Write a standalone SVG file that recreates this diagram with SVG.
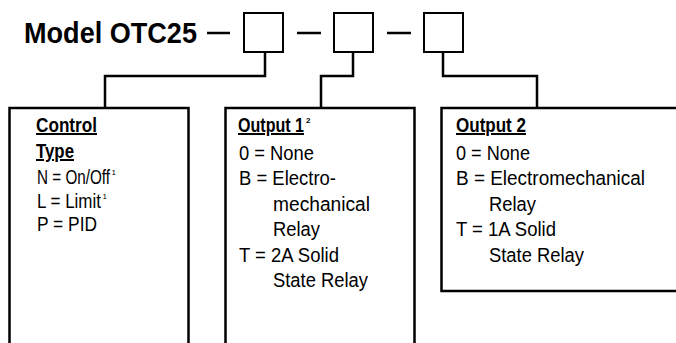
<svg xmlns="http://www.w3.org/2000/svg" width="676" height="343" viewBox="0 0 676 343">
<style>
.t{font-family:"Liberation Sans",Arial,sans-serif;font-size:20px;fill:#000}
.h{font-family:"Liberation Sans",Arial,sans-serif;font-size:20px;font-weight:bold;fill:#000}
.u{text-decoration:underline}
.sup{font-size:8px}
.sq{fill:#fff;stroke:#000;stroke-width:2}
.bx{fill:none;stroke:#000;stroke-width:2.5}
.ln{fill:none;stroke:#000;stroke-width:2.5}
</style>
<rect width="676" height="343" fill="#fff"/>
<g id="title">
<text x="24" y="43" font-family="Liberation Sans, Arial, sans-serif" font-size="29" font-weight="bold" textLength="173" lengthAdjust="spacingAndGlyphs">Model OTC25</text>
<path class="ln" d="M207 33H230M297 33H321M387 33H411"/>
</g>
<g id="slot1"><rect class="sq" x="244" y="13" width="39" height="39"/></g>
<g id="slot2"><rect class="sq" x="334" y="13" width="39" height="39"/></g>
<g id="slot3"><rect class="sq" x="424" y="13" width="39" height="39"/></g>
<g id="connectors">
<path class="ln" d="M265 52V76H105V108"/>
<path class="ln" d="M353 52V76H321V108"/>
<path class="ln" d="M443 52V76H537V108"/>
</g>
<g id="control-type">
<path class="bx" d="M9.5 345V108H188.5V345"/>
<text class="h u" x="36" y="132" textLength="61" lengthAdjust="spacingAndGlyphs">Control</text>
<text class="h u" x="36" y="158" textLength="38" lengthAdjust="spacingAndGlyphs">Type</text>
<text class="t" x="37" y="184"><tspan textLength="73" lengthAdjust="spacingAndGlyphs">N = On/Off</tspan><tspan class="sup" dx="1.5" dy="-9">1</tspan></text>
<text class="t" x="37" y="207.5"><tspan textLength="64" lengthAdjust="spacingAndGlyphs">L = Limit</tspan><tspan class="sup" dx="1.5" dy="-9">1</tspan></text>
<text class="t" x="37" y="231" textLength="60" lengthAdjust="spacingAndGlyphs">P = PID</text>
</g>
<g id="output1">
<path class="bx" d="M225.5 345V108H414.5V345"/>
<text class="h" x="238" y="132"><tspan class="u" textLength="66" lengthAdjust="spacingAndGlyphs">Output 1</tspan><tspan class="sup" dx="2" dy="-9">2</tspan></text>
<text class="t" x="239" y="160" textLength="75" lengthAdjust="spacingAndGlyphs">0 = None</text>
<text class="t" x="239" y="185" textLength="97" lengthAdjust="spacingAndGlyphs">B = Electro-</text>
<text class="t" x="273" y="210.5" textLength="97" lengthAdjust="spacingAndGlyphs">mechanical</text>
<text class="t" x="273" y="236" textLength="47" lengthAdjust="spacingAndGlyphs">Relay</text>
<text class="t" x="239" y="261.5" textLength="100" lengthAdjust="spacingAndGlyphs">T = 2A Solid</text>
<text class="t" x="273" y="287" textLength="95" lengthAdjust="spacingAndGlyphs">State Relay</text>
</g>
<g id="output2">
<rect class="bx" x="441.5" y="108" width="250" height="183"/>
<text class="h u" x="456" y="132" textLength="70" lengthAdjust="spacingAndGlyphs">Output 2</text>
<text class="t" x="456" y="160" textLength="74" lengthAdjust="spacingAndGlyphs">0 = None</text>
<text class="t" x="456" y="185" textLength="189" lengthAdjust="spacingAndGlyphs">B = Electromechanical</text>
<text class="t" x="489" y="210.5" textLength="47" lengthAdjust="spacingAndGlyphs">Relay</text>
<text class="t" x="456" y="236" textLength="100" lengthAdjust="spacingAndGlyphs">T = 1A Solid</text>
<text class="t" x="489" y="261.5" textLength="95" lengthAdjust="spacingAndGlyphs">State Relay</text>
</g>
</svg>
